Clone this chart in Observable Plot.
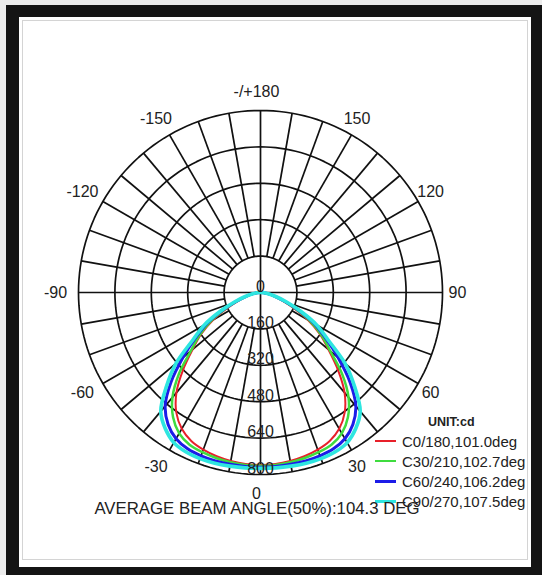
<!DOCTYPE html>
<html><head><meta charset="utf-8">
<script src="https://cdn.jsdelivr.net/npm/d3@7"></script>
<script src="https://cdn.jsdelivr.net/npm/@observablehq/plot@0.6"></script>
<style>
html,body{margin:0;padding:0;background:#ececec;}
#page{position:relative;width:542px;height:575px;overflow:hidden;font-family:"Liberation Sans",Arial,sans-serif;color:#222;}
#frame{position:absolute;left:6px;top:5px;width:536px;height:570px;background:#141414;}
#inner{position:absolute;left:19px;top:17px;width:512px;height:550px;background:#fff;}
#inner2{position:absolute;left:3px;top:3px;right:3px;bottom:7px;border:1px solid #d4d4d4;}
#chart{position:absolute;left:0;top:0;}
#unit{position:absolute;left:428px;top:414px;font-size:12.5px;font-weight:bold;line-height:16px;}
#legend{position:absolute;left:375px;top:431px;}
.row{height:20px;display:flex;align-items:center;font-size:15px;}
.sw{width:21px;margin-right:6px;}
#avg{position:absolute;left:0;width:514px;text-align:center;top:499px;font-size:16.8px;line-height:20px;}
</style></head>
<body><div id="page"><div id="frame"></div><div id="inner"><div id="inner2"></div></div>
<div id="chart"></div>
<div id="unit">UNIT:cd</div>
<div id="legend"></div>
<div id="avg"></div>
</div>
<script>
// ---- data ----
const gammaAngles = [-90,-85,-80,-75,-70,-65,-60,-55,-50,-45,-40,-35,-30,-25,-20,-15,-10,-5,0,5,10,15,20,25,30,35,40,45,50,55,60,65,70,75,80,85,90];
const seriesNames = ["C0/180,101.0deg","C30/210,102.7deg","C60/240,106.2deg","C90/270,107.5deg"];
const seriesColors = ["#e8202a","#3fdc3f","#1c1ce8","#2ee6e0"];
const c0 = [2,12,32,60,100,160,240,318,390,482,575,645,692,720,735,745,752,757,758,757,752,745,735,720,692,645,575,482,390,318,240,160,100,60,32,12,2];
const c30 = [2,13,33,62,106,170,252,328,400,508,602,670,715,738,747,753,758,761,762,761,758,753,747,738,715,670,602,508,400,328,252,170,106,62,33,13,2];
const c60 = [2,14,36,68,115,185,272,350,445,556,652,708,742,758,764,766,767,768,768,768,767,766,764,758,742,708,652,556,445,350,272,185,115,68,36,14,2];
const c90 = [2,15,38,72,122,195,285,362,485,585,682,730,762,774,777,777,775,774,773,774,775,777,777,774,762,730,682,585,485,362,285,195,122,72,38,15,2];
const ringValues = [160,320,480,640,800];
const ringLabels = ["0","160","320","480","640","800"];
const angleTicks = [0,30,60,90,120,150,180,-150,-120,-90,-60,-30];
const angleTickLabels = ["0","30","60","90","120","150","-/+180","-150","-120","-90","-60","-30"];
const spokeAngles = d3.range(0,360,10);
const unitText = "UNIT:cd";
const avgText = "AVERAGE BEAM ANGLE(50%):104.3 DEG";

// ---- layout ----
const W=542,H=575,CX=260,CY=292,R=182,VMAX=800;
const k = VMAX/R;
const rad = a => a*Math.PI/180;
const px = (a,v) => v*Math.sin(rad(a));
const py = (a,v) => v*Math.cos(rad(a));

const seriesData = [c0,c30,c60,c90].map((vals,i)=>gammaAngles.map((a,j)=>({s:i,a,v:vals[j]})));
const ringPts = ringValues.flatMap(v => d3.range(0,361,2).map(a=>({v,a})));
const spokes = spokeAngles.map(a=>({a, r0: (a%90===0)?0:ringValues[0], r1: VMAX}));
const ringLab = ringLabels.map(t=>({t, v:+t}));
const angLab = angleTicks.map((a,i)=>({a, t:angleTickLabels[i]}));
const labR = 201*k;

const widths=[2,2.5,3,3.6];
const chart = Plot.plot({
  width: W, height: H, margin: 0,
  style:{background:"transparent", fontFamily:'"Liberation Sans",Arial,sans-serif', overflow:"visible"},
  x:{domain:[-CX*k,(W-CX)*k], range:[0,W], axis:null},
  y:{domain:[-CY*k,(H-CY)*k], range:[0,H], axis:null},
  marks:[
    Plot.line(ringPts,{x:d=>px(d.a,d.v), y:d=>py(d.a,d.v), z:"v", stroke:"#111", strokeWidth:1.7}),
    Plot.link(spokes,{x1:d=>px(d.a,d.r0), y1:d=>py(d.a,d.r0), x2:d=>px(d.a,d.r1), y2:d=>py(d.a,d.r1), stroke:"#111", strokeWidth:1.7}),
    ...seriesData.map((data,i)=>Plot.line(data,{x:d=>px(d.a,d.v), y:d=>py(d.a,d.v), stroke:seriesColors[i], strokeWidth:widths[i], curve:"catmull-rom"})),
    Plot.text(ringLab,{x:0, y:d=>d.v, text:"t", dy:-6, fontSize:16, fill:"#222"}),
    Plot.text(angLab,{x:d=>px(d.a,labR), y:d=>py(d.a,labR), text:"t", dx:-4, fontSize:16, fill:"#222"})
  ]
});
document.getElementById("chart").appendChild(chart);

// legend
const leg = document.getElementById("legend");
seriesNames.forEach((n,i)=>{
  const row=document.createElement("div"); row.className="row";
  const sw=document.createElement("div"); sw.className="sw";
  sw.style.height=(i===3?3:Math.max(2,widths[i]))+"px"; sw.style.background=seriesColors[i];
  const t=document.createElement("span"); t.textContent=n;
  row.appendChild(sw); row.appendChild(t); leg.appendChild(row);
});
document.getElementById("unit").textContent=unitText;
document.getElementById("avg").textContent=avgText;
</script></body></html>
